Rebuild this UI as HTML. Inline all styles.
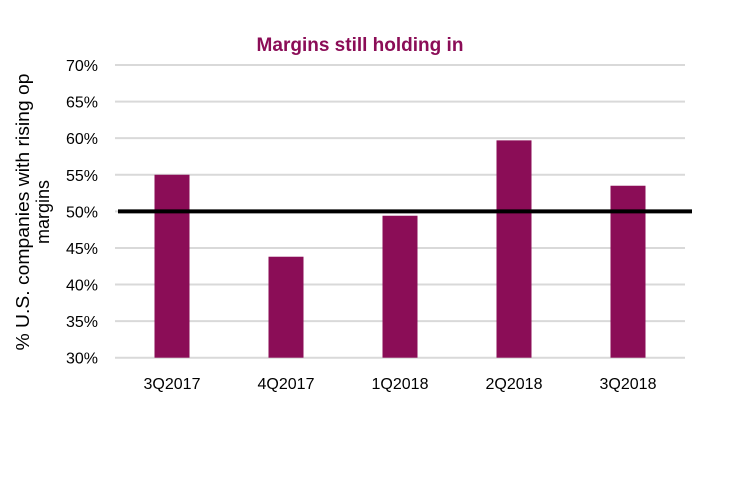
<!DOCTYPE html>
<html><head><meta charset="utf-8"><style>
body{margin:0;background:#fff;}
svg{display:block;font-family:"Liberation Sans",Arial,sans-serif;}
</style></head><body>
<svg id="chart" width="742" height="478">
<text x="360" y="51" text-anchor="middle" font-size="19" font-weight="bold" fill="#8b0d57">Margins still holding in</text>
<g id="grid"></g><g id="bars"></g><g id="labels"></g>
<text transform="translate(29,212) rotate(-90)" text-anchor="middle" font-size="18" fill="#000"><tspan x="0" dy="0" textLength="277" lengthAdjust="spacingAndGlyphs">% U.S. companies with rising op</tspan><tspan x="0" dy="20">margins</tspan></text>
</svg>
<script>
const categories=["3Q2017","4Q2017","1Q2018","2Q2018","3Q2018"];
const values=[55,43.8,49.4,59.7,53.5];
const yTicks=[30,35,40,45,50,55,60,65,70];
const threshold=50;
const NS="http://www.w3.org/2000/svg";
const x0=115,x1=685,yTop=65,yBot=357.7,yMin=30,yMax=70;
const y=v=>yBot-(v-yMin)/(yMax-yMin)*(yBot-yTop);
const band=(x1-x0)/categories.length;
const xc=i=>x0+band*(i+0.5);
function mk(t,a,p){const e=document.createElementNS(NS,t);for(const k in a)e.setAttribute(k,a[k]);p.appendChild(e);return e;}
const g=document.getElementById('grid'),b=document.getElementById('bars'),l=document.getElementById('labels');
yTicks.forEach(v=>{
 const ln=mk('line',{x1:x0,x2:x1,y1:y(v),y2:y(v),stroke:'#d9d9d9','stroke-width':2},g);
 
 
 const t=mk('text',{x:98,y:y(v)+6,'text-anchor':'end','font-size':16},l);
 t.textContent=v+'%';
 
 
});
categories.forEach((c,i)=>{
 const r=mk('rect',{x:xc(i)-17.5,y:y(values[i]),width:35,height:yBot-y(values[i]),fill:'#8b0d57'},b);
 
 
 const t=mk('text',{x:xc(i),y:389,'text-anchor':'middle','font-size':16},l);
 t.textContent=c;
 
 
});
const th=mk('line',{x1:118,x2:692,y1:y(threshold),y2:y(threshold),stroke:'#000','stroke-width':4},b);


</script>
</body></html>
